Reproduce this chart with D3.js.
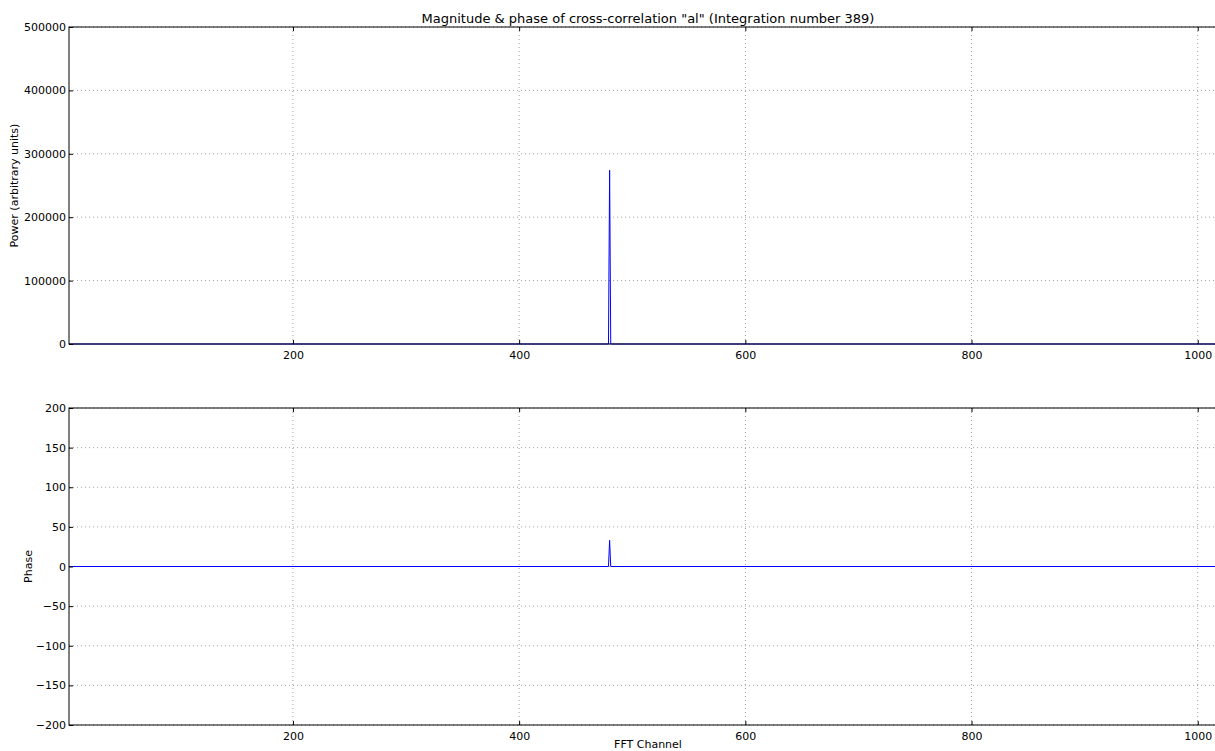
<!DOCTYPE html>
<html>
<head>
<meta charset="utf-8">
<script src="https://cdn.jsdelivr.net/npm/d3@7"></script>
<style>
  html, body { margin: 0; padding: 0; background: #fff; }
  svg { display: block; font-family: "DejaVu Sans", sans-serif; }
</style>
</head>
<body>
<svg id="chart" width="1215" height="751"></svg>
<script>
// Cross-correlation "al", integration 389: all channels sit at zero apart from one spike.
const channels = [2, 479, 480, 481, 1025];
const power    = [0, 0, 274000, 0, 0];
const phase    = [0, 0, 33, 0, 0];

const xTicks     = [200, 400, 600, 800, 1000];
const powerTicks = [0, 100000, 200000, 300000, 400000, 500000];
const phaseTicks = [-200, -150, -100, -50, 0, 50, 100, 150, 200];

const titleText = 'Magnitude & phase of cross-correlation "al" (Integration number 389)';

const svg = d3.select("#chart");
const left = 69, right = 1226;

const x = d3.scaleLinear().domain([2, 1025]).range([left, right]);

function panel(top, bottom, yDomain, yTicks, values, yLabel, yLabelX, fmt) {
  const y = d3.scaleLinear().domain(yDomain).range([bottom, top]);
  const g = svg.append("g");

  // grid
  g.selectAll(".gx").data(xTicks).join("line")
    .attr("x1", d => x(d)).attr("x2", d => x(d))
    .attr("y1", top).attr("y2", bottom)
    .attr("stroke", "#a0a0a0").attr("stroke-width", 1)
    .attr("stroke-dasharray", "1,3");
  g.selectAll(".gy").data(yTicks).join("line")
    .attr("x1", left).attr("x2", right)
    .attr("y1", d => y(d)).attr("y2", d => y(d))
    .attr("stroke", "#a0a0a0").attr("stroke-width", 1)
    .attr("stroke-dasharray", "1,3");

  // data line
  const line = d3.line().x((d, i) => x(channels[i])).y(d => y(d));
  g.append("path").datum(values)
    .attr("d", line)
    .attr("fill", "none")
    .attr("stroke", "#0000ff")
    .attr("stroke-width", 1);

  // axes (inward ticks on all sides)
  const axB = d3.axisBottom(x).tickValues(xTicks).tickSize(-4).tickPadding(7).tickFormat(d3.format("d"));
  const axT = d3.axisTop(x).tickValues(xTicks).tickSize(-4).tickFormat("");
  const axL = d3.axisLeft(y).tickValues(yTicks).tickSize(-4).tickPadding(3).tickFormat(fmt);
  const axR = d3.axisRight(y).tickValues(yTicks).tickSize(-4).tickFormat("");

  const styleAxis = sel => {
    sel.select(".domain").remove();
    sel.selectAll(".tick line").attr("stroke", "#000");
    sel.selectAll("text").attr("fill", "#000").attr("font-size", 11)
      .attr("font-family", '"DejaVu Sans", sans-serif');
  };
  g.append("g").attr("transform", `translate(0,${bottom})`).call(axB).call(styleAxis);
  g.append("g").attr("transform", `translate(0,${top})`).call(axT).call(styleAxis);
  g.append("g").attr("transform", `translate(${left},0)`).call(axL).call(styleAxis);
  g.append("g").attr("transform", `translate(${right},0)`).call(axR).call(styleAxis);

  // frame
  g.append("rect")
    .attr("x", left).attr("y", top)
    .attr("width", right - left).attr("height", bottom - top)
    .attr("fill", "none").attr("stroke", "#000").attr("stroke-width", 1);

  // y label
  svg.append("text")
    .attr("transform", `translate(${yLabelX},${(top + bottom) / 2}) rotate(-90)`)
    .attr("text-anchor", "middle")
    .attr("font-size", 11)
    .text(yLabel);
}

const minus = d => (d < 0 ? "\u2212" + Math.abs(d) : String(d));

panel(27, 344, [0, 500000], powerTicks, power, "Power (arbitrary units)", 18, d => String(d));
panel(408, 725, [-200, 200], phaseTicks, phase, "Phase", 32, minus);

svg.append("text")
  .attr("x", 648).attr("y", 23)
  .attr("text-anchor", "middle")
  .attr("font-size", 13)
  .text(titleText);

svg.append("text")
  .attr("x", 648).attr("y", 748)
  .attr("text-anchor", "middle")
  .attr("font-size", 11)
  .text("FFT Channel");
</script>
</body>
</html>
